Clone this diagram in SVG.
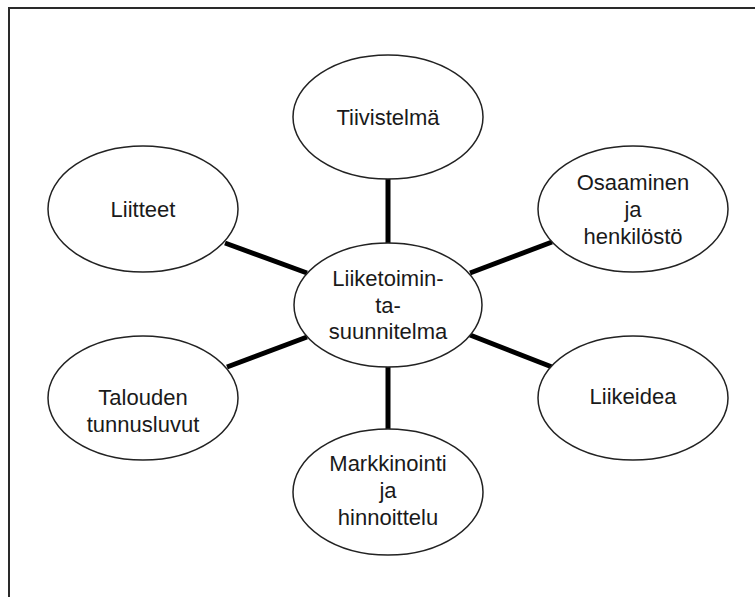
<svg xmlns="http://www.w3.org/2000/svg" width="755" height="597" viewBox="0 0 755 597">
  <style>
    .frame { stroke: #2a2a2a; stroke-width: 2; fill: none; }
    .link { stroke: #000; stroke-width: 5; stroke-linecap: butt; }
    .node ellipse { fill: #fff; stroke: #222; stroke-width: 1.5; }
    .node text { font-family: "Liberation Sans", Arial, sans-serif; font-size: 22px; fill: #1a1a1a; text-anchor: middle; }
  </style>
  <rect width="755" height="597" fill="#fff"/>
  <!-- page frame: top and left edges -->
  <path class="frame" d="M9 597 V8 H755"/>

  <g id="connectors">
    <line class="link" x1="388" y1="178" x2="388" y2="244"/>
    <line class="link" x1="388" y1="365" x2="388" y2="431"/>
    <line class="link" x1="225" y1="243" x2="307" y2="273"/>
    <line class="link" x1="227" y1="367" x2="307" y2="337"/>
    <line class="link" x1="470" y1="273" x2="552" y2="242"/>
    <line class="link" x1="470" y1="335" x2="552" y2="367"/>
  </g>

  <g id="tiivistelma" class="node">
    <ellipse cx="388" cy="117" rx="95" ry="62"/>
    <text x="388" y="125">Tiivistelmä</text>
  </g>
  <g id="liitteet" class="node">
    <ellipse cx="143" cy="209" rx="95" ry="63"/>
    <text x="143" y="217">Liitteet</text>
  </g>
  <g id="osaaminen" class="node">
    <ellipse cx="633" cy="209" rx="95" ry="63"/>
    <text x="633" y="190">Osaaminen</text>
    <text x="633" y="217">ja</text>
    <text x="633" y="244">henkilöstö</text>
  </g>
  <g id="liiketoimintasuunnitelma" class="node">
    <ellipse cx="388" cy="305" rx="94" ry="62"/>
    <text x="388" y="286">Liiketoimin-</text>
    <text x="388" y="313">ta-</text>
    <text x="388" y="339">suunnitelma</text>
  </g>
  <g id="talouden-tunnusluvut" class="node">
    <ellipse cx="143" cy="398" rx="95" ry="62"/>
    <text x="143" y="405">Talouden</text>
    <text x="143" y="432">tunnusluvut</text>
  </g>
  <g id="liikeidea" class="node">
    <ellipse cx="633" cy="398" rx="95" ry="62"/>
    <text x="633" y="404">Liikeidea</text>
  </g>
  <g id="markkinointi" class="node">
    <ellipse cx="388" cy="492" rx="95" ry="63"/>
    <text x="388" y="471">Markkinointi</text>
    <text x="388" y="498">ja</text>
    <text x="388" y="525">hinnoittelu</text>
  </g>
</svg>
